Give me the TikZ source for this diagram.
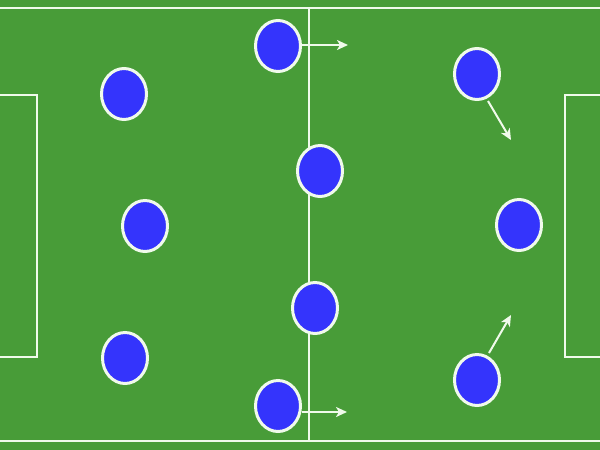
\documentclass[tikz,border=0pt]{standalone}
\usepackage{tikz}
\usetikzlibrary{arrows.meta,shapes.geometric}

\definecolor{pitch}{RGB}{72,156,56}
\definecolor{team}{RGB}{52,52,252}
\definecolor{chalk}{RGB}{240,250,235}

\tikzset{
  player/.style={ellipse, draw=chalk, fill=team, line width=3pt,
    inner sep=0pt, minimum width=45pt, minimum height=51pt},
  line/.style={draw=chalk, line width=2.5pt},
  run/.style={chalk, line width=2pt, -{Stealth[length=11pt,width=10pt,inset=3pt]}}
}

\begin{document}
\begin{tikzpicture}[x=1pt, y=-1pt]
    % Terrain
    \fill[pitch] (0,0) rectangle (600,450);
    \useasboundingbox (0,0) rectangle (600,450);
    \draw[line] (0,8) -- (600,8);
    \draw[line] (0,441) -- (600,441);
    \draw[line] (309,8) -- (309,441);
    \draw[line] (-5,95) -- (37,95) -- (37,357) -- (-5,357);
    \draw[line] (605,95) -- (565,95) -- (565,357) -- (605,357);
    % Joueurs
    \node[player] (A) at (278,46) {};
    \node[player] (B) at (124,94) {};
    \node[player] (C) at (320,171) {};
    \node[player] (D) at (145,226) {};
    \node[player] (E) at (477,74) {};
    \node[player] (F) at (519,225) {};
    \node[player] (G) at (315,308) {};
    \node[player] (H) at (125,358) {};
    \node[player] (I) at (278,406) {};
    \node[player] (J) at (477,380) {};
    % Courses
    \coordinate (Ap) at (348,45);
    \coordinate (Ep) at (511,140);
    \coordinate (Ip) at (347,412);
    \coordinate (Jp) at (511,315);
    \draw[run] (A.east |- Ap) -- (Ap);
    \draw[run] (E) ++(11,27) -- (Ep);
    \draw[run] (I.east |- Ip) -- (Ip);
    \draw[run] (J) ++(12,-27) -- (Jp);
\end{tikzpicture}
\end{document}
